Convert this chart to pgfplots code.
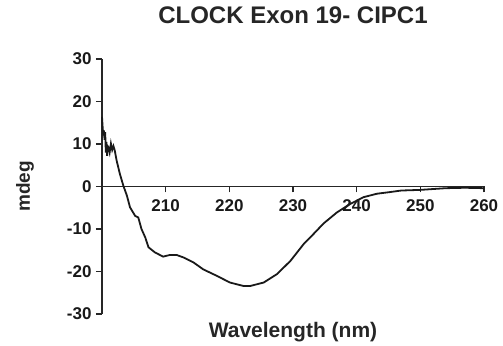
\documentclass[border=0pt]{standalone}
\usepackage{pgfplots}
\pgfplotsset{compat=1.18}
\usepackage{fontspec}
\setmainfont{Liberation Sans}
\begin{document}
\begin{tikzpicture}
\begin{axis}[
  scale only axis,
  width=382pt, height=255pt,
  xmin=200, xmax=260, ymin=-30, ymax=30,
  axis x line=middle, axis y line=left,
  axis line style={-, line width=1.5pt, color=black!85},
  xtick={210,220,230,240,250,260},
  ytick={-30,-20,-10,0,10,20,30},
  tick align=outside,
  major tick length=6pt,
  tick style={line width=1.5pt, color=black!85},
  /pgf/number format/assume math mode=true,
  tick label style={font=\bfseries\fontsize{17}{17}\selectfont, color=black!90},
  xticklabel style={yshift=-3.5pt},
  yticklabel style={xshift=-1pt},
  xlabel={Wavelength (nm)},
  ylabel={mdeg},
  xlabel style={at={(rel axis cs:0.5,0)}, anchor=north, yshift=-5pt, font=\bfseries\fontsize{21}{21}\selectfont, color=black!85},
  ylabel style={at={(rel axis cs:0,0.5)}, anchor=center, yshift=77pt, font=\bfseries\fontsize{19}{19}\selectfont, color=black!85},
  title={CLOCK Exon 19- CIPC1},
  title style={at={(rel axis cs:0.5,1)}, anchor=base, yshift=29pt, font=\bfseries\fontsize{24}{24}\selectfont, color=black!85},
  clip=false,
]
\addplot[line width=1.8pt, color=black!90] coordinates {
(200.0,16.4) (200.1,14.0) (200.2,12.0) (200.3,13.2) (200.4,11.0) (200.5,12.8)
(200.6,8.0) (200.7,10.5) (200.8,7.2) (200.9,9.5) (201.0,9.3) (201.2,8.0)
(201.4,10.1) (201.6,8.6) (201.8,9.5) (202.0,8.5) (202.3,6.1) (202.8,3.0)
(203.35,0.2) (203.9,-2.1) (204.4,-4.9) (205.2,-6.9) (205.7,-7.3) (206.2,-10.0)
(206.8,-12.0) (207.3,-14.3) (208.3,-15.5) (209.6,-16.5) (210.7,-16.1) (211.7,-16.1)
(212.8,-16.7) (214.4,-17.9) (215.9,-19.5) (218.0,-21.0) (220.1,-22.6) (222.2,-23.4)
(223.3,-23.4) (225.4,-22.6) (227.5,-20.6) (229.6,-17.5) (231.7,-13.5) (232.7,-12.0)
(234.8,-8.7) (236.9,-6.1) (239.0,-4.1) (241.1,-2.5) (243.2,-1.7) (245.3,-1.3)
(247.0,-0.95) (250.0,-0.8) (254.0,-0.4) (257.0,-0.3) (260.0,-0.4)
};
\coordinate (bl) at (rel axis cs:0,0);
\coordinate (tr) at (rel axis cs:1,1);
\end{axis}
\path ([shift={(-102pt,-27pt)}]bl) rectangle ([shift={(19pt,59pt)}]tr);
\end{tikzpicture}
\end{document}
